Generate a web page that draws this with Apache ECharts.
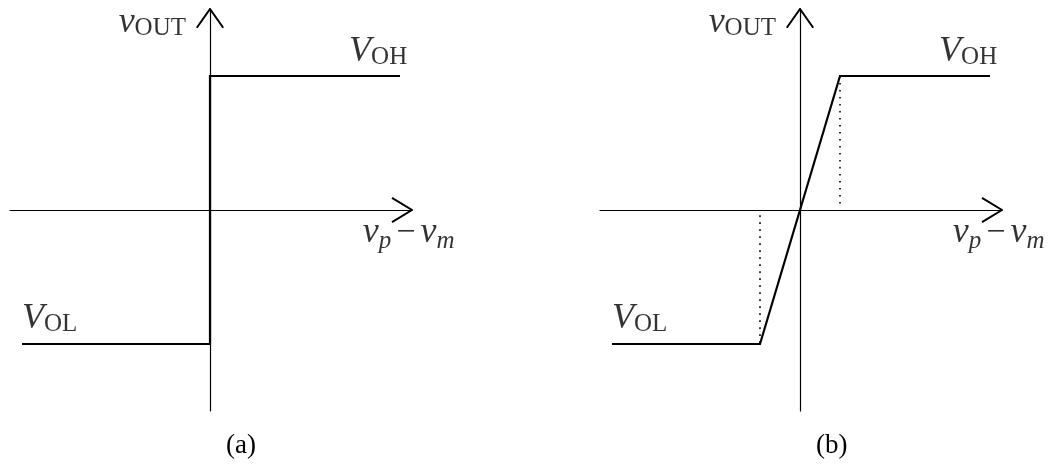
<!DOCTYPE html>
<html>
<head>
<meta charset="utf-8">
<title>Comparator transfer characteristics</title>
<script src="https://cdn.jsdelivr.net/npm/echarts@6/dist/echarts.min.js"></script>
<style>
  html, body { margin: 0; padding: 0; background: #fff; }
  #chart { width: 1054px; height: 464px; }
</style>
</head>
<body>
<div id="chart"></div>
<script>
// Normalised levels: output swings between V_OL and V_OH
const VOH = 1;
const VOL = -1;

// Axis extents (input differential voltage, output voltage)
const xExtent = [-5, 5.05];
const yExtent = [-1.5, 1.5];

// (a) ideal comparator: hard step at zero input
const idealX = [-4.7, 0, 0, 4.75];
const idealY = [VOL, VOL, VOH, VOH];

// (b) finite gain: linear region between the two saturation points
const linearX = [-4.7, -1, 1, 4.75];
const linearY = [VOL, VOL, VOH, VOH];

// saturation edges of the linear region (dotted guides)
const satEdgesX = [-1, 1];

const panelNames = ['(a)', '(b)'];

const serif = '"Liberation Serif", "DejaVu Serif", serif';
const ink = '#000';

const rich = {
  v:   { fontFamily: serif, fontStyle: 'italic', fontSize: 36, lineHeight: 40, color: ink },
  V:   { fontFamily: serif, fontStyle: 'italic', fontSize: 36, lineHeight: 40, color: ink },
  sub: { fontFamily: serif, fontSize: 25, lineHeight: 40, padding: [11, 0, 0, 0], color: ink },
  isub:{ fontFamily: serif, fontStyle: 'italic', fontSize: 25, lineHeight: 40, padding: [16, 0, 0, 0], color: ink },
  op:  { fontFamily: serif, fontSize: 34, lineHeight: 40, padding: [0, 5, 0, 5], color: ink }
};

const grids = [
  { left: 10,  top: 9, width: 402, height: 402 },
  { left: 600, top: 9, width: 402, height: 402 }
];

function axisX(i) {
  return {
    type: 'value', gridIndex: i, min: xExtent[0], max: xExtent[1],
    axisLine: { show: true, onZero: true, lineStyle: { color: ink, width: 1.2 } },
    axisTick: { show: false }, axisLabel: { show: false }, splitLine: { show: false }
  };
}
function axisY(i) {
  return {
    type: 'value', gridIndex: i, min: yExtent[0], max: yExtent[1],
    axisLine: { show: true, onZero: true, lineStyle: { color: ink, width: 1.2 } },
    axisTick: { show: false }, axisLabel: { show: false }, splitLine: { show: false }
  };
}

// open chevron arrowheads at the positive ends of both axes
const xHead = [[xExtent[1] - 0.5, 0.09], [xExtent[1], 0], [xExtent[1] - 0.5, -0.09]];
const yHead = [[-0.33, yExtent[1] - 0.14], [0, yExtent[1]], [0.33, yExtent[1] - 0.14]];

function lineSeries(i, data, width, type) {
  return {
    type: 'line', xAxisIndex: i, yAxisIndex: i, data: data,
    symbol: 'none', animation: false, silent: true,
    lineStyle: { color: ink, width: width, type: type || 'solid', cap: 'butt', join: 'miter' }
  };
}

function labelSeries(i) {
  return {
    type: 'scatter', xAxisIndex: i, yAxisIndex: i, symbolSize: 0, silent: true, animation: false,
    data: [
      { value: [-0.6, 1.25], label: { formatter: '{v|v}{sub|OUT}', align: 'right', verticalAlign: 'bottom' } },
      { value: [4.93, 1.03], label: { formatter: '{V|V}{sub|OH}', align: 'right', verticalAlign: 'bottom' } },
      { value: [-4.7, -0.96], label: { formatter: '{V|V}{sub|OL}', align: 'left', verticalAlign: 'bottom' } },
      { value: [3.82, -0.022], label: { formatter: '{v|v}{isub|p}{op|\u2212}{v|v}{isub|m}', align: 'left', verticalAlign: 'top' } }
    ],
    label: { show: true, position: 'inside', rich: rich }
  };
}

const zip = (xs, ys) => xs.map((x, k) => [x, ys[k]]);

const series = [];
[0, 1].forEach(i => {
  series.push(lineSeries(i, xHead, 2));
  series.push(lineSeries(i, yHead, 2));
  series.push(labelSeries(i));
});
series.push(lineSeries(0, zip(idealX, idealY), 2.2));
series.push(lineSeries(1, zip(linearX, linearY), 2.2));
// dotted drops from each knee to the input axis
series.push(lineSeries(1, [[satEdgesX[1], VOH], [satEdgesX[1], 0.04]], 1.6, [1.6, 5.4]));
series.push(lineSeries(1, [[satEdgesX[0], -0.04], [satEdgesX[0], VOL]], 1.6, [1.6, 5.4]));

const chart = echarts.init(document.getElementById('chart'), null, { renderer: 'canvas' });
chart.setOption({
  animation: false,
  backgroundColor: '#fff',
  title: panelNames.map((t, i) => ({
    text: t, left: i === 0 ? 221 : 811, top: 427,
    textStyle: { fontFamily: serif, fontSize: 27, fontWeight: 'normal', color: ink }
  })),
  grid: grids,
  xAxis: [axisX(0), axisX(1)],
  yAxis: [axisY(0), axisY(1)],
  series: series
});
</script>
</body>
</html>
